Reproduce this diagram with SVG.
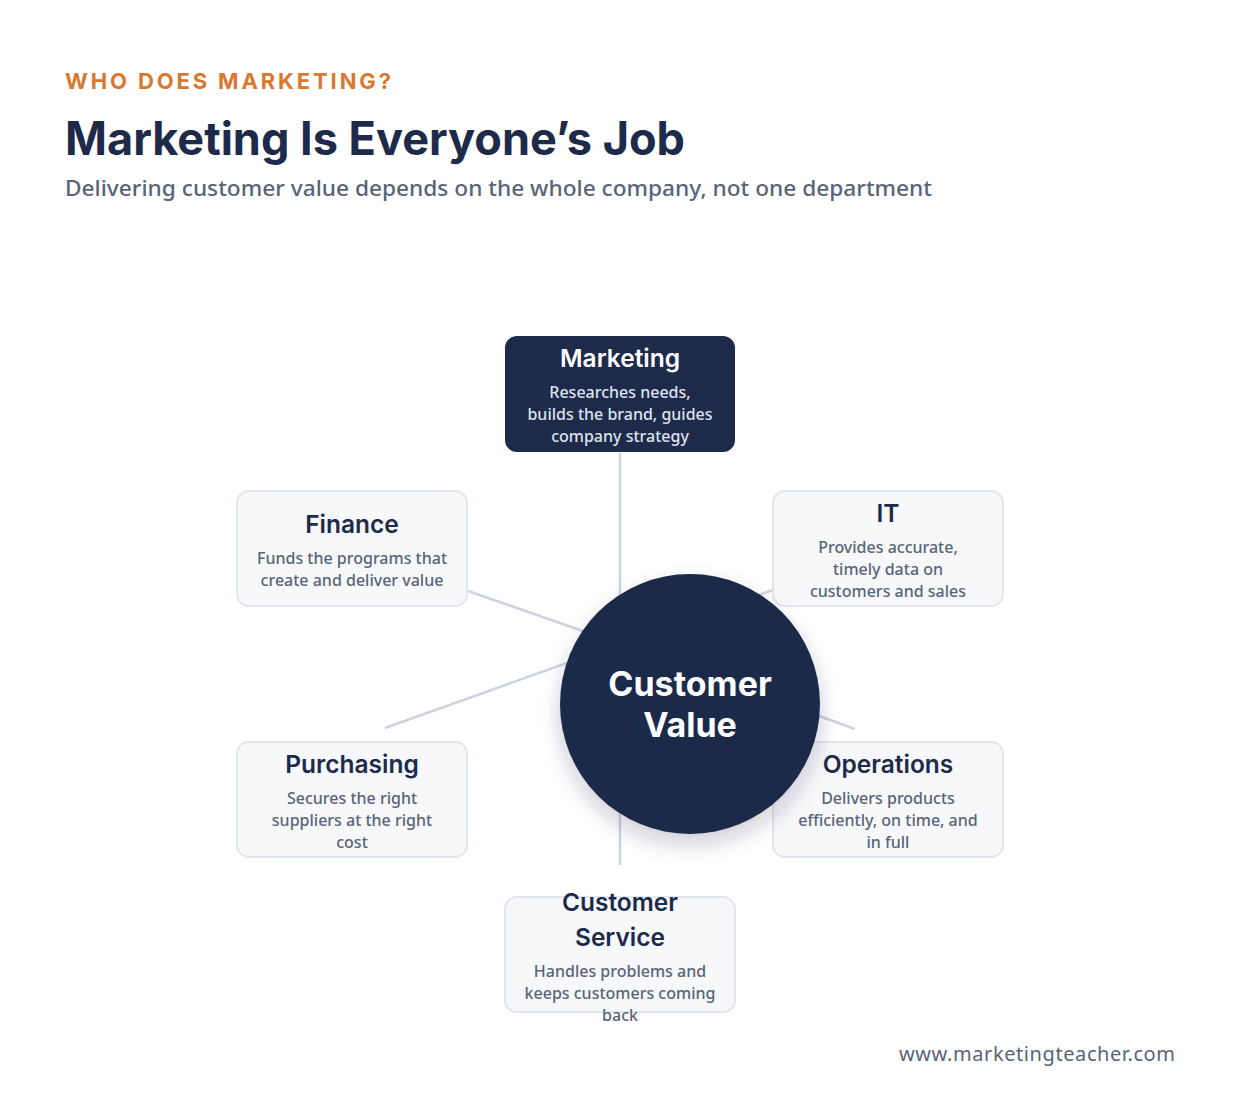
<svg xmlns="http://www.w3.org/2000/svg" width="1240" height="1110" viewBox="0 0 1240 1110">
<defs>
<filter id="shadow" x="-30%" y="-30%" width="160%" height="170%">
<feDropShadow dx="0" dy="10" stdDeviation="10" flood-color="#1e2a4a" flood-opacity="0.22"/>
</filter>
<style>
.head{font-family:Inter,"Liberation Sans",sans-serif;font-weight:700}
.body{font-family:"Noto Sans","Open Sans","Liberation Sans",sans-serif}
.card{fill:#f6f8fa;stroke:#e2e6ee;stroke-width:2}
.ttl{font-family:Inter,"Liberation Sans",sans-serif;font-weight:600;font-size:24.5px;fill:#1e2a4a;text-anchor:middle}
.dsc{font-family:"Noto Sans","Open Sans","Liberation Sans",sans-serif;font-weight:500;font-size:16px;fill:#5a6478;text-anchor:middle}
.conn{stroke:#cdd3df;stroke-width:2.5;fill:none}
</style>
</defs>
<rect width="1240" height="1110" fill="#ffffff"/>
<text x="65" y="89" class="head" font-size="22" fill="#d9782f" letter-spacing="2" textLength="328">WHO DOES MARKETING?</text>
<text x="65" y="155" class="head" font-size="46" fill="#1e2a4a" textLength="620" lengthAdjust="spacingAndGlyphs">Marketing Is Everyone’s Job</text>
<text x="65" y="196" class="body" font-size="22" font-weight="500" fill="#5a6478" textLength="867" lengthAdjust="spacingAndGlyphs">Delivering customer value depends on the whole company, not one department</text>
<g id="connectors">
<line class="conn" x1="620" y1="644" x2="620" y2="453"/>
<line class="conn" x1="620" y1="644" x2="468" y2="591"/>
<line class="conn" x1="620" y1="644" x2="385" y2="728"/>
<line class="conn" x1="620" y1="644" x2="773" y2="590"/>
<line class="conn" x1="620" y1="644" x2="855" y2="729"/>
<line class="conn" x1="620" y1="644" x2="620" y2="865"/>
</g>
<g id="node-finance">
<rect class="card" x="237" y="491" width="230" height="115" rx="12"/>
<text class="ttl" x="352" y="533">Finance</text>
<text class="dsc" x="352" y="564">Funds the programs that</text>
<text class="dsc" x="352" y="586">create and deliver value</text>
</g>
<g id="node-it">
<rect class="card" x="773" y="491" width="230" height="115" rx="12"/>
<text class="ttl" x="888" y="522">IT</text>
<text class="dsc" x="888" y="553">Provides accurate,</text>
<text class="dsc" x="888" y="575">timely data on</text>
<text class="dsc" x="888" y="597">customers and sales</text>
</g>
<g id="node-purchasing">
<rect class="card" x="237" y="742" width="230" height="115" rx="12"/>
<text class="ttl" x="352" y="773">Purchasing</text>
<text class="dsc" x="352" y="804">Secures the right</text>
<text class="dsc" x="352" y="826">suppliers at the right</text>
<text class="dsc" x="352" y="848">cost</text>
</g>
<g id="node-operations">
<rect class="card" x="773" y="742" width="230" height="115" rx="12"/>
<text class="ttl" x="888" y="773">Operations</text>
<text class="dsc" x="888" y="804">Delivers products</text>
<text class="dsc" x="888" y="826">efficiently, on time, and</text>
<text class="dsc" x="888" y="848">in full</text>
</g>
<g id="node-customer-service">
<rect class="card" x="505" y="897" width="230" height="115" rx="12"/>
<text class="ttl" x="620" y="911">Customer</text>
<text class="ttl" x="620" y="946">Service</text>
<text class="dsc" x="620" y="977">Handles problems and</text>
<text class="dsc" x="620" y="999">keeps customers coming</text>
<text class="dsc" x="620" y="1021">back</text>
</g>
<g id="node-marketing">
<rect x="505" y="336" width="230" height="116" rx="12" fill="#1e2a4a"/>
<text class="ttl" x="620" y="367" style="fill:#ffffff">Marketing</text>
<text class="dsc" x="620" y="398" style="fill:#dde3ee">Researches needs,</text>
<text class="dsc" x="620" y="420" style="fill:#dde3ee">builds the brand, guides</text>
<text class="dsc" x="620" y="442" style="fill:#dde3ee">company strategy</text>
</g>
<g id="node-customer-value">
<circle cx="690" cy="704" r="130" fill="#1e2a4a" filter="url(#shadow)"/>
<text x="690" y="696" class="head" font-size="34" fill="#ffffff" text-anchor="middle">Customer</text>
<text x="690" y="737" class="head" font-size="34" fill="#ffffff" text-anchor="middle">Value</text>
</g>
<text x="1175" y="1061" class="body" font-size="20" fill="#5a6478" text-anchor="end" textLength="276">www.marketingteacher.com</text>
</svg>
